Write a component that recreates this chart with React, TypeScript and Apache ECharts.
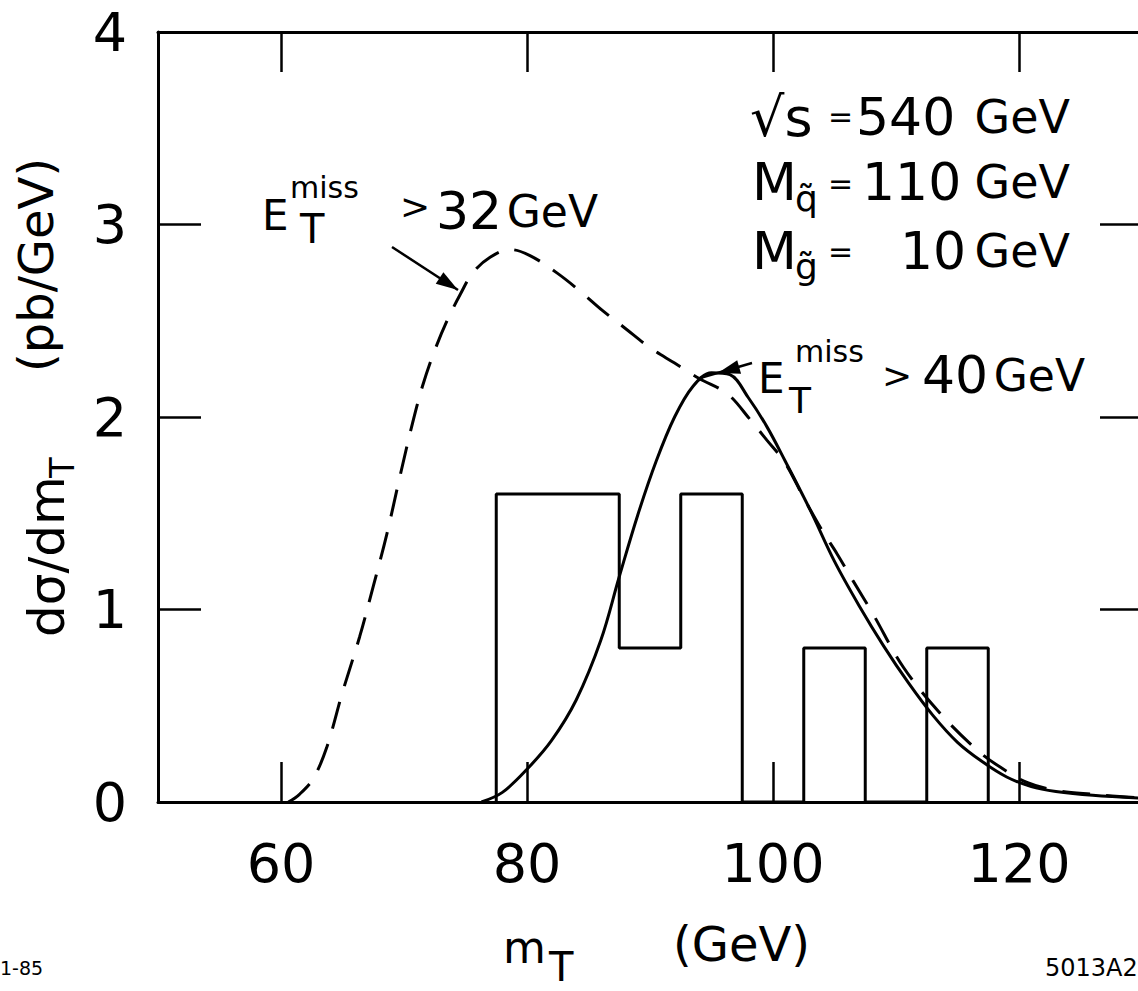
import React, { useEffect, useRef } from "react";
import * as echarts from "echarts";

// ---- data ----
const xTicks = [60, 80, 100, 120];
const yTicks = [0, 1, 2, 3, 4];

// E_T^miss > 32 GeV (dashed)
const dashedX = [60.6, 61.5, 62.6, 63.7, 65, 66.4, 67.5, 68.6, 69.7, 70.7, 71.5, 72.4, 73.5, 74.6, 75.6, 77, 78.6, 80.2, 82.4, 84.2, 86.2, 88, 90, 92, 94, 96.3, 98.1, 99.5, 101, 102.5, 104, 105.2, 106.5, 108.1, 110.6, 113.6, 116.6, 118.5, 120.7, 123, 126, 130];
const dashedY = [0, 0.04, 0.12, 0.28, 0.57, 0.86, 1.12, 1.39, 1.7, 1.97, 2.16, 2.33, 2.5, 2.64, 2.75, 2.83, 2.87, 2.84, 2.75, 2.66, 2.55, 2.46, 2.36, 2.28, 2.2, 2.12, 1.99, 1.88, 1.76, 1.58, 1.41, 1.29, 1.15, 0.98, 0.7, 0.46, 0.27, 0.18, 0.1, 0.06, 0.04, 0.02];

// E_T^miss > 40 GeV (solid)
const solidX = [76.3, 78, 80, 82, 84, 86, 87.5, 89, 90.5, 92, 93.5, 95, 96.5, 98, 99.5, 101, 103, 105, 107, 109, 111, 113, 115, 117, 119, 121, 123, 126, 130];
const solidY = [0, 0.05, 0.17, 0.32, 0.53, 0.84, 1.17, 1.49, 1.77, 2.0, 2.16, 2.23, 2.22, 2.1, 1.95, 1.77, 1.52, 1.25, 1.02, 0.81, 0.62, 0.45, 0.31, 0.21, 0.13, 0.08, 0.055, 0.035, 0.02];

// histogram of events
const binEdges = [77.5, 82.5, 87.5, 92.5, 97.5, 102.5, 107.5, 112.5, 117.5];
const binHeights = [1.6, 1.6, 0.8, 1.6, 0, 0.8, 0, 0.8];

const FONT = '"DejaVu Sans", "Noto Sans", sans-serif';

function txt(text: string, x: number, y: number, size: number, align: string = "left", rot: number = 0) {
  return {
    type: "text",
    x,
    y,
    rotation: rot,
    silent: true,
    z: 20,
    style: {
      text,
      fill: "#000",
      fontSize: size,
      fontFamily: FONT,
      align,
      verticalAlign: "middle",
      textAlign: align,
      textVerticalAlign: "middle",
    },
  };
}

function arrow(x1: number, y1: number, x2: number, y2: number, tipX: number, tipY: number) {
  const dx = x2 - x1;
  const dy = y2 - y1;
  const L = Math.sqrt(dx * dx + dy * dy);
  const ux = dx / L;
  const uy = dy / L;
  const nx = -uy;
  const ny = ux;
  const hl = 22;
  const hw = 7;
  const bx = tipX - hl * ux;
  const by = tipY - hl * uy;
  return [
    {
      type: "line",
      silent: true,
      z: 20,
      shape: { x1, y1, x2, y2 },
      style: { stroke: "#000", lineWidth: 2.5 },
    },
    {
      type: "polygon",
      silent: true,
      z: 20,
      shape: {
        points: [
          [tipX, tipY],
          [bx + hw * nx, by + hw * ny],
          [bx - hw * nx, by - hw * ny],
        ],
      },
      style: { fill: "#000" },
    },
  ];
}

export default function App() {
  const ref = useRef<HTMLDivElement>(null);

  useEffect(() => {
    if (!ref.current) return;
    const chart = echarts.init(ref.current, undefined, { renderer: "svg" });

    const dashedData = dashedX.map((x, i) => [x, dashedY[i]]);
    const solidData = solidX.map((x, i) => [x, solidY[i]]);
    const histData: number[][] = [[binEdges[0], 0]];
    binHeights.forEach((h, i) => {
      histData.push([binEdges[i], h], [binEdges[i + 1], h]);
    });
    histData.push([binEdges[binEdges.length - 1], 0]);

    const axisLine = { show: true, onZero: false, lineStyle: { color: "#000", width: 3 } };

    const option: any = {
      animation: false,
      backgroundColor: "#fff",
      textStyle: { fontFamily: FONT, color: "#000" },
      grid: { left: 158, top: 32, width: 984, height: 770, containLabel: false },
      xAxis: [
        {
          type: "value",
          position: "bottom",
          min: 50,
          max: 130,
          axisLine,
          axisTick: { show: true, inside: true, length: 40, customValues: xTicks, lineStyle: { color: "#000", width: 2.5 } },
          axisLabel: { show: true, customValues: xTicks, fontSize: 54, color: "#000", fontFamily: FONT, margin: 34 },
          splitLine: { show: false },
        },
        {
          type: "value",
          position: "top",
          min: 50,
          max: 130,
          axisLine,
          axisTick: { show: true, inside: true, length: 40, customValues: xTicks, lineStyle: { color: "#000", width: 2.5 } },
          axisLabel: { show: false },
          splitLine: { show: false },
        },
      ],
      yAxis: [
        {
          type: "value",
          position: "left",
          min: 0,
          max: 4,
          interval: 1,
          axisLine,
          axisTick: { show: true, inside: true, length: 43, customValues: yTicks, lineStyle: { color: "#000", width: 2.5 } },
          axisLabel: { show: true, customValues: yTicks, fontSize: 54, color: "#000", fontFamily: FONT, margin: 48, align: "center" },
          splitLine: { show: false },
        },
        {
          type: "value",
          position: "right",
          min: 0,
          max: 4,
          interval: 1,
          axisLine,
          axisTick: { show: true, inside: true, length: 42, customValues: yTicks, lineStyle: { color: "#000", width: 2.5 } },
          axisLabel: { show: false },
          splitLine: { show: false },
        },
      ],
      series: [
        {
          type: "line",
          name: "events",
          data: histData,
          showSymbol: false,
          symbol: "none",
          lineStyle: { color: "#000", width: 3 },
          z: 3,
        },
        {
          type: "line",
          name: "ETmiss > 40 GeV",
          data: solidData,
          showSymbol: false,
          symbol: "none",
          smooth: 0.35,
          lineStyle: { color: "#000", width: 3 },
          z: 4,
        },
        {
          type: "line",
          name: "ETmiss > 32 GeV",
          data: dashedData,
          showSymbol: false,
          symbol: "none",
          smooth: 0.35,
          lineStyle: { color: "#000", width: 3, type: [28, 16] },
          z: 4,
        },
      ],
      graphic: [
        // y-axis title (rotated)
        txt("dσ/dm", 47, 637, 50, "left", Math.PI / 2),
        txt("T", 62, 478, 34, "left", Math.PI / 2),
        txt("(pb/GeV)", 36, 372, 48, "left", Math.PI / 2),
        // x-axis title
        txt("m", 503, 947, 44),
        txt("T", 549, 967, 40),
        txt("(GeV)", 673, 944, 48),
        // footer
        txt("1-85", 0, 968, 19),
        txt("5013A2", 1045, 968, 24),
        // ETmiss > 32 GeV
        txt("E", 262, 215, 42),
        txt("miss", 290, 187, 30),
        txt("T", 300, 229, 40),
        txt(">", 400, 206, 36),
        txt("32", 436, 211, 52),
        txt("GeV", 598, 211, 44, "right"),
        // ETmiss > 40 GeV
        txt("E", 758, 378, 42),
        txt("miss", 795, 351, 30),
        txt("T", 789, 400, 36),
        txt(">", 882, 375, 36),
        txt("40", 922, 375, 52),
        txt("GeV", 1085, 375, 44, "right"),
        // parameters block
        txt("√s", 750, 117, 54),
        txt("=", 828, 116, 30),
        txt("540", 856, 117, 52),
        txt("GeV", 1070, 117, 46, "right"),
        txt("M", 752, 182, 52),
        txt("q̃", 795, 198, 36),
        txt("=", 828, 183, 30),
        txt("110", 862, 182, 52),
        txt("GeV", 1070, 182, 46, "right"),
        txt("M", 752, 251, 52),
        txt("g̃", 795, 266, 36),
        txt("=", 828, 251, 30),
        txt("10", 900, 251, 52),
        txt("GeV", 1070, 251, 46, "right"),
        // arrows
        ...arrow(392, 247, 458, 290, 458, 290),
        ...arrow(752, 363, 700, 378, 718, 373),
      ],
    };

    chart.setOption(option);
    return () => {
      chart.dispose();
    };
  }, []);

  return (
    <div
      style={{
        position: "absolute",
        left: 0,
        top: 0,
        width: 1138,
        height: 991,
        overflow: "hidden",
        background: "#fff",
      }}
    >
      <div ref={ref} style={{ width: 1160, height: 991 }} />
    </div>
  );
}
